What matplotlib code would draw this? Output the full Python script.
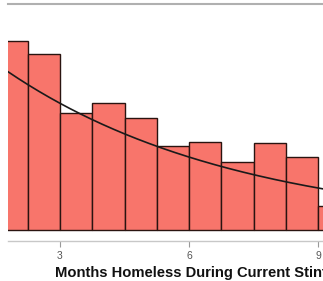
import matplotlib
matplotlib.use("Agg")
import matplotlib.pyplot as plt
import numpy as np

# histogram of months homeless (density), bins of 0.75 months
bin_edges = [1.5, 2.25, 3.0, 3.75, 4.5, 5.25, 6.0, 6.75, 7.5, 8.25, 9.0, 9.75]
densities = [0.158, 0.147, 0.098, 0.106, 0.094, 0.070, 0.074, 0.057, 0.073, 0.061, 0.020]
fit_rate = 0.184  # fitted exponential rate
tick_values = [3, 6, 9]
x_label = "Months Homeless During Current Stint"


def main():
    plt.rcParams["font.family"] = ["Liberation Sans", "DejaVu Sans"]
    fig = plt.figure(figsize=(3.23, 2.81), dpi=100)
    ax = fig.add_axes([8 / 323, 1 - 241 / 281, 1 - 8 / 323, 237 / 281])

    lefts = np.array(bin_edges[:-1])
    widths = np.diff(bin_edges)
    ax.bar(lefts, densities, width=widths, align="edge", color="#f8756b",
           edgecolor="#2a1410", linewidth=1.0)

    xs = np.linspace(1.0, 10.0, 300)
    ax.plot(xs, fit_rate * np.exp(-fit_rate * xs), color="#1a1a1a", linewidth=1.2)

    ax.set_xlim(1.79, 9.116)
    ax.set_ylim(-0.0092, 0.189)

    for side in ("left", "right"):
        ax.spines[side].set_visible(False)
    ax.spines["top"].set_color("#b0b0b0")
    ax.spines["top"].set_linewidth(1.5)
    ax.spines["bottom"].set_color("#c8c8c8")
    ax.spines["bottom"].set_linewidth(1.0)

    ax.set_yticks([])
    ax.set_xticks(tick_values)
    ax.set_xticklabels([str(t) for t in tick_values])
    ax.tick_params(axis="x", colors="#999999", labelcolor="#555555", labelsize=7.5,
                   length=4, width=0.8, pad=3)
    ax.set_xlabel(x_label, fontsize=10.6, fontweight="bold", color="#111111",
                  ha="left")
    ax.xaxis.set_label_coords((55 - 8) / 315, -0.105)

    fig.savefig("out.png", dpi=100)


if __name__ == '__main__':
    main()
